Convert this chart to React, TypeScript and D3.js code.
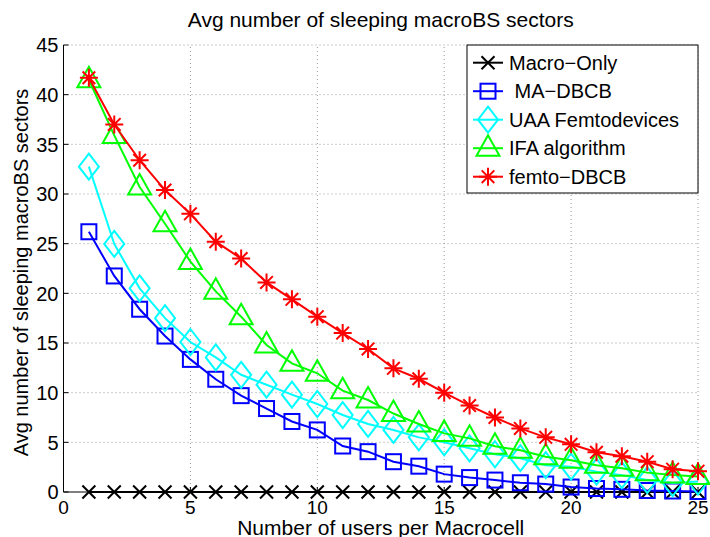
import React from "react";
import * as d3 from "d3";

const users = d3.range(1, 26);
const macroOnly = users.map(() => 0);
const maDBCB = [26.2, 21.75, 18.4, 15.7, 13.35, 11.35, 9.7, 8.4, 7.1, 6.25, 4.63, 4.06, 3.05, 2.6, 1.8, 1.45, 1.2, 0.93, 0.8, 0.5, 0.35, 0.27, 0.15, 0.1, 0.05];
const uaaFemto = [32.75, 24.97, 20.5, 17.5, 15.1, 13.55, 11.8, 10.8, 9.8, 8.86, 7.75, 6.85, 6.25, 5.5, 5.0, 4.4, 3.8, 3.4, 2.7, 2.55, 2.05, 1.7, 1.2, 0.9, 1.05];
const ifaAlg = [41.5, 35.9, 30.7, 27.0, 23.2, 20.2, 17.65, 14.8, 12.95, 11.95, 10.2, 9.26, 7.9, 6.85, 5.9, 5.4, 4.6, 4.2, 3.55, 3.2, 2.7, 2.4, 1.95, 1.7, 1.55];
const femtoDBCB = [41.7, 37.0, 33.4, 30.4, 28.0, 25.2, 23.5, 21.1, 19.4, 17.65, 16.0, 14.4, 12.45, 11.4, 10.0, 8.7, 7.5, 6.4, 5.5, 4.8, 4.0, 3.6, 3.05, 2.3, 2.1];

const seriesNames = ["Macro\u2212Only", " MA\u2212DBCB", "UAA Femtodevices", "IFA algorithm", "femto\u2212DBCB"];
const seriesColors = ["#000000", "#0000ff", "#00ffff", "#00ff00", "#ff0000"];
const seriesMarkers = ["x", "square", "diamond", "triangle", "star"];
const seriesValues = [macroOnly, maDBCB, uaaFemto, ifaAlg, femtoDBCB];

const xTicks = [0, 5, 10, 15, 20, 25];
const yTicks = [0, 5, 10, 15, 20, 25, 30, 35, 40, 45];

const W = 710, H = 537;
const L = 63.5, R = 698, T = 45, B = 492;
const FONT = "'Liberation Sans', Arial, Helvetica, sans-serif";

function Marker({ type, x, y, color }: { type: string; x: number; y: number; color: string }) {
  const sw = 2;
  if (type === "x") {
    const s = 6.5;
    return <path d={`M${x - s},${y - s}L${x + s},${y + s}M${x - s},${y + s}L${x + s},${y - s}`} stroke={color} strokeWidth={sw} fill="none" />;
  }
  if (type === "square") {
    const s = 7.5;
    return <rect x={x - s} y={y - s} width={2 * s} height={2 * s} stroke={color} strokeWidth={sw} fill="none" />;
  }
  if (type === "diamond") {
    const w = 10, h = 13;
    return <path d={`M${x},${y - h}L${x + w},${y}L${x},${y + h}L${x - w},${y}Z`} stroke={color} strokeWidth={sw} fill="none" />;
  }
  if (type === "triangle") {
    const w = 11.5, h = 10;
    return <path d={`M${x},${y - h * 1.3}L${x + w},${y + h * 0.75}L${x - w},${y + h * 0.75}Z`} stroke={color} strokeWidth={sw} fill="none" />;
  }
  const s = 9;
  const d = s * 0.7;
  return (
    <path
      d={`M${x},${y - s}L${x},${y + s}M${x - s},${y}L${x + s},${y}M${x - d},${y - d}L${x + d},${y + d}M${x - d},${y + d}L${x + d},${y - d}`}
      stroke={color}
      strokeWidth={sw}
      fill="none"
    />
  );
}

export default function App() {
  const x = d3.scaleLinear().domain([0, 25]).range([L, R]);
  const y = d3.scaleLinear().domain([0, 45]).range([B, T]);
  const line = d3
    .line<number>()
    .x((_, i) => x(users[i]))
    .y((v) => y(v));

  const legX = 467, legY = 45, legW = 231, legH = 148;
  const rowH = 28.5;

  return (
    <svg width={W} height={H} style={{ position: "absolute", left: 0, top: 0, background: "#fff" }} fontFamily={FONT}>
      <rect x={0} y={0} width={W} height={H} fill="#fff" />
      {/* grid */}
      {xTicks.filter((t) => t > 0).map((t) => (
        <line key={"gx" + t} x1={x(t)} x2={x(t)} y1={B} y2={T} stroke="#999" strokeWidth={1} strokeDasharray="1,3" />
      ))}
      {yTicks.filter((t) => t > 0).map((t) => (
        <line key={"gy" + t} x1={L} x2={R} y1={y(t)} y2={y(t)} stroke="#999" strokeWidth={1} strokeDasharray="1,3" />
      ))}
      {/* ticks */}
      {yTicks.map((t) => (
        <line key={"ty" + t} x1={L} x2={L + 5} y1={y(t)} y2={y(t)} stroke="#000" strokeWidth={1} />
      ))}
      {xTicks.map((t) => (
        <line key={"tx" + t} x1={x(t)} x2={x(t)} y1={B} y2={B - 5} stroke="#000" strokeWidth={1} />
      ))}
      {/* axes */}
      <line x1={L} x2={L} y1={T} y2={B} stroke="#000" strokeWidth={1} />
      <line x1={L} x2={R} y1={B} y2={B} stroke="#000" strokeWidth={1} />
      {/* tick labels */}
      {yTicks.map((t) => (
        <text key={"ly" + t} x={L - 5} y={y(t)} dy="0.36em" textAnchor="end" fontSize={20}>
          {t}
        </text>
      ))}
      {xTicks.map((t) => (
        <text key={"lx" + t} x={x(t)} y={514} textAnchor="middle" fontSize={19}>
          {t}
        </text>
      ))}
      {/* titles */}
      <text x={(L + R) / 2} y={27} textAnchor="middle" fontSize={21}>
        Avg number of sleeping macroBS sectors
      </text>
      <text x={(L + R) / 2} y={535} textAnchor="middle" fontSize={21}>
        Number of users per Macrocell
      </text>
      <text transform={`translate(28,${(T + B) / 2 + 4}) rotate(-90)`} textAnchor="middle" fontSize={20}>
        Avg number of sleeping macroBS sectors
      </text>
      {/* series */}
      {seriesValues.map((vals, si) => (
        <g key={"s" + si}>
          <path d={line(vals) || ""} fill="none" stroke={seriesColors[si]} strokeWidth={2} />
          {vals.map((v, i) => (
            <Marker key={i} type={seriesMarkers[si]} x={x(users[i])} y={y(v)} color={seriesColors[si]} />
          ))}
        </g>
      ))}
      {/* legend */}
      <rect x={legX} y={legY} width={legW} height={legH} fill="#fff" stroke="#000" strokeWidth={1} />
      {seriesNames.map((n, i) => {
        const cy = legY + 17.7 + i * rowH;
        return (
          <g key={"lg" + i}>
            <line x1={legX + 6} x2={legX + 36} y1={cy} y2={cy} stroke={seriesColors[i]} strokeWidth={2} />
            <Marker type={seriesMarkers[i]} x={legX + 21} y={cy} color={seriesColors[i]} />
            <text x={legX + 42} y={cy} dy="0.36em" fontSize={20} style={{ whiteSpace: "pre" }}>
              {n}
            </text>
          </g>
        );
      })}
    </svg>
  );
}
